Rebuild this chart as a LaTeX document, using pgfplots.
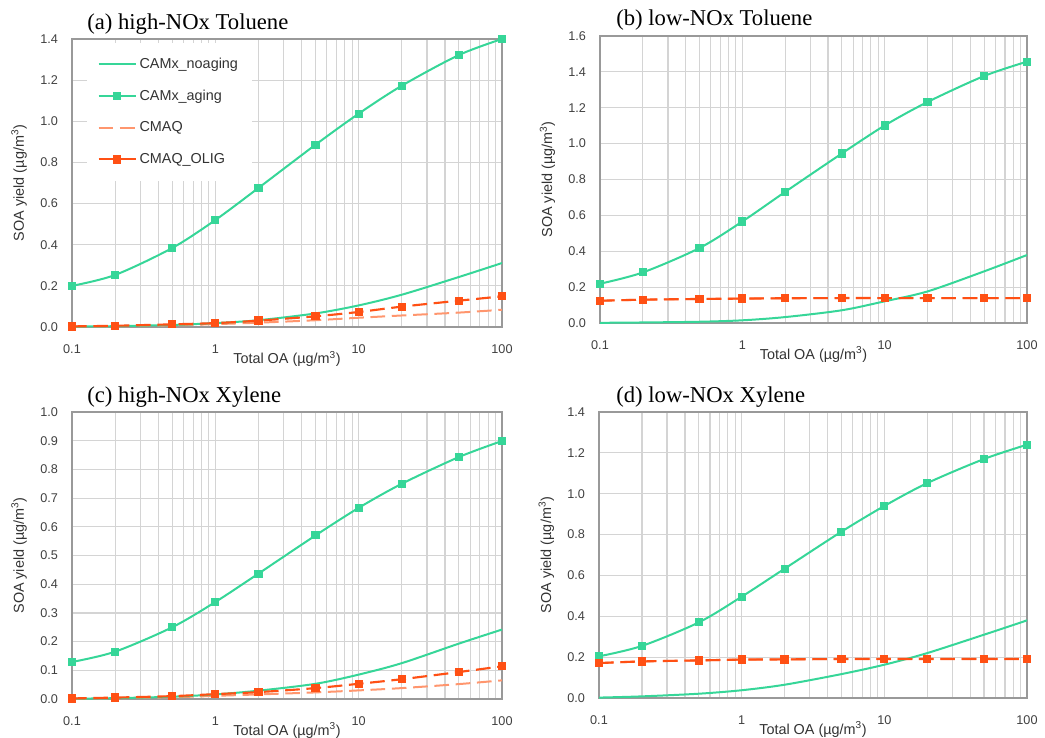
\documentclass[border=0pt]{standalone}
\usepackage{fontspec}
\setmainfont{Liberation Serif}
\setsansfont{Liberation Sans}
\usepackage{pgfplots}
\pgfplotsset{compat=1.18}
\definecolor{camx}{RGB}{54,214,152}
\definecolor{oligc}{RGB}{255,80,20}
\definecolor{cmaql}{RGB}{255,150,110}
\pgfplotsset{
 every axis/.append style={
  scale only axis, xmin=0.1, xmax=100, ymin=0,
  xtick={0.1,1,10,100}, xticklabels={0.1,1,10,100},
  xminorgrids=true, xmajorgrids=true, ymajorgrids=true,
  major grid style={draw=black!17, line width=0.9pt},
  minor grid style={draw=black!17, line width=0.9pt},
  axis line style={draw=black!40, line width=0.8pt},
  major tick length=0pt, minor tick length=0pt,
  tick label style={font=\sffamily\fontsize{9.5}{11}\selectfont, text=black!75},
  yticklabel={\pgfmathprintnumber[fixed,fixed zerofill,precision=1,assume math mode=true]{\tick}},
  yticklabel style={xshift=-7pt},
  xticklabel style={yshift=-10pt},
  xlabel={Total OA (µg/m\textsuperscript{3})},
  ylabel={SOA yield (µg/m\textsuperscript{3})},
  label style={font=\sffamily\fontsize{10.8}{12}\selectfont, text=black!80},
  xlabel style={at={(axis description cs:0.5,-0.11)}, anchor=center},
  ylabel style={at={(axis description cs:-0.123,0.5)}, anchor=center},
 },
 pnoag/.style={color=camx, line width=1.5pt, smooth, no markers},
 pag/.style={color=camx, line width=1.5pt, smooth, mark=square*, mark size=2.3pt},
 pcmaq/.style={color=cmaql, line width=1.5pt, dash pattern=on 11pt off 5pt, smooth, no markers},
 polig/.style={color=oligc, line width=1.6pt, dash pattern=on 11pt off 5pt, smooth, mark=square*, mark size=2.3pt, mark options={solid}},
}
\begin{document}
\begin{tikzpicture}
\useasboundingbox (0,0) rectangle (783.75pt,-553.5pt);
% (a)
\begin{semilogxaxis}[at={(54pt,-245.25pt)}, anchor=south west, width=322.5pt, height=216pt,
  ymax=1.4, ytick={0,0.2,...,1.4},
  legend style={at={(axis description cs:0.034,0.987)}, anchor=north west, draw=white, fill=white,
    font=\sffamily\fontsize{10.8}{12}\selectfont, text=black!80, row sep=10.7pt, inner xsep=8pt, inner ysep=9pt},
  legend cell align=left,
  legend image code/.code={\draw[mark repeat=2,mark phase=2,#1] plot coordinates {(0cm,0cm) (0.49cm,0cm) (0.98cm,0cm)};}]
\addlegendimage{color=camx, line width=1.5pt}
\addlegendentry{CAMx\_noaging}
\addlegendimage{color=camx, line width=1.5pt, mark=square*, mark size=2.3pt}
\addlegendentry{CAMx\_aging}
\addlegendimage{color=cmaql, line width=1.5pt, dash pattern=on 11pt off 5pt}
\addlegendentry{CMAQ}
\addlegendimage{color=oligc, line width=1.6pt, mark=square*, mark size=2.3pt}
\addlegendentry{CMAQ\_OLIG}
\addplot[pcmaq, forget plot] coordinates {(0.1,0.002)(0.2,0.004)(0.5,0.008)(1,0.014)(2,0.021)(5,0.033)(10,0.045)(20,0.056)(50,0.070)(100,0.084)};
\addplot[pnoag, forget plot] coordinates {(0.1,0.002)(0.2,0.004)(0.5,0.010)(1,0.019)(2,0.033)(5,0.066)(10,0.105)(20,0.157)(50,0.243)(100,0.311)};
\addplot[pag, forget plot] coordinates {(0.1,0.200)(0.2,0.253)(0.5,0.384)(1,0.520)(2,0.676)(5,0.886)(10,1.037)(20,1.173)(50,1.322)(100,1.400)};
\addplot[polig, forget plot] coordinates {(0.1,0.003)(0.2,0.006)(0.5,0.013)(1,0.019)(2,0.031)(5,0.052)(10,0.073)(20,0.099)(50,0.128)(100,0.149)};
\end{semilogxaxis}
% (b)
\begin{semilogxaxis}[at={(450pt,-242.25pt)}, anchor=south west, width=320.25pt, height=215.25pt,
  ymax=1.6, ytick={0,0.2,...,1.6}]
\addplot[pcmaq] coordinates {(0.1,0.124)(0.2,0.130)(0.5,0.134)(1,0.136)(2,0.138)(5,0.139)(10,0.139)(20,0.139)(50,0.139)(100,0.139)};
\addplot[pnoag] coordinates {(0.1,0.001)(0.2,0.003)(0.5,0.007)(1,0.015)(2,0.033)(5,0.071)(10,0.121)(20,0.176)(50,0.288)(100,0.379)};
\addplot[pag] coordinates {(0.1,0.219)(0.2,0.282)(0.5,0.418)(1,0.566)(2,0.731)(5,0.945)(10,1.101)(20,1.232)(50,1.377)(100,1.457)};
\addplot[polig] coordinates {(0.1,0.124)(0.2,0.130)(0.5,0.134)(1,0.136)(2,0.138)(5,0.139)(10,0.139)(20,0.139)(50,0.139)(100,0.139)};
\end{semilogxaxis}
% (c)
\begin{semilogxaxis}[at={(54pt,-524.25pt)}, anchor=south west, width=322.5pt, height=215.25pt,
  ymax=1.0, ytick={0,0.1,...,1.0}]
\addplot[pcmaq] coordinates {(0.1,0.001)(0.2,0.003)(0.5,0.006)(1,0.011)(2,0.016)(5,0.023)(10,0.030)(20,0.038)(50,0.052)(100,0.065)};
\addplot[pnoag] coordinates {(0.1,0.001)(0.2,0.003)(0.5,0.008)(1,0.016)(2,0.029)(5,0.053)(10,0.085)(20,0.125)(50,0.193)(100,0.242)};
\addplot[pag] coordinates {(0.1,0.129)(0.2,0.165)(0.5,0.250)(1,0.338)(2,0.437)(5,0.570)(10,0.666)(20,0.750)(50,0.843)(100,0.899)};
\addplot[polig] coordinates {(0.1,0.002)(0.2,0.005)(0.5,0.010)(1,0.017)(2,0.024)(5,0.038)(10,0.053)(20,0.069)(50,0.094)(100,0.114)};
\end{semilogxaxis}
% (d)
\begin{semilogxaxis}[at={(449.25pt,-523.5pt)}, anchor=south west, width=321pt, height=214.5pt,
  ymax=1.4, ytick={0,0.2,...,1.4}]
\addplot[pcmaq] coordinates {(0.1,0.171)(0.2,0.179)(0.5,0.184)(1,0.188)(2,0.189)(5,0.191)(10,0.191)(20,0.191)(50,0.191)(100,0.191)};
\addplot[pnoag] coordinates {(0.1,0.002)(0.2,0.008)(0.5,0.021)(1,0.038)(2,0.065)(5,0.117)(10,0.163)(20,0.220)(50,0.310)(100,0.380)};
\addplot[pag] coordinates {(0.1,0.204)(0.2,0.255)(0.5,0.370)(1,0.496)(2,0.633)(5,0.814)(10,0.940)(20,1.052)(50,1.170)(100,1.240)};
\addplot[polig] coordinates {(0.1,0.171)(0.2,0.179)(0.5,0.184)(1,0.188)(2,0.189)(5,0.191)(10,0.191)(20,0.191)(50,0.191)(100,0.191)};
\end{semilogxaxis}
\node[anchor=base west, inner sep=0pt, font=\fontsize{17}{20}\selectfont] at (65.25pt,-22.5pt) {(a) high-NOx Toluene};
\node[anchor=base west, inner sep=0pt, font=\fontsize{17}{20}\selectfont] at (462pt,-19.5pt) {(b) low-NOx Toluene};
\node[anchor=base west, inner sep=0pt, font=\fontsize{17}{20}\selectfont] at (65.25pt,-301.5pt) {(c) high-NOx Xylene};
\node[anchor=base west, inner sep=0pt, font=\fontsize{17}{20}\selectfont] at (462pt,-301.5pt) {(d) low-NOx Xylene};
\end{tikzpicture}
\end{document}
